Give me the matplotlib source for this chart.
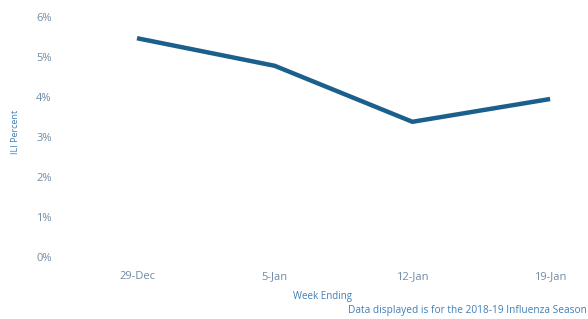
import matplotlib
matplotlib.use("Agg")
import matplotlib.pyplot as plt
from matplotlib.ticker import FuncFormatter

weeks = ["29-Dec", "5-Jan", "12-Jan", "19-Jan"]
ili_percent = [5.47, 4.78, 3.38, 3.95]
yticks = [0, 1, 2, 3, 4, 5, 6]

line_color = "#1b5f8c"
text_color = "#6f8aa3"
title_color = "#3f7fb5"

plt.rcParams['font.family'] = ['Open Sans', 'DejaVu Sans']

fig = plt.figure(figsize=(5.88, 3.19), dpi=100)
ax = fig.add_axes([60 / 588, 62 / 319, 528 / 588, 240 / 319])

x = list(range(len(weeks)))
ax.plot(x, ili_percent, color=line_color, linewidth=3.2, solid_capstyle='butt', solid_joinstyle='miter')

ax.set_xlim(-0.559, 3.275)
ax.set_ylim(0, 6)
ax.set_xticks(x)
ax.set_xticklabels(weeks)
ax.set_yticks(yticks)
ax.yaxis.set_major_formatter(FuncFormatter(lambda v, p: '{:d}%'.format(int(v))))
ax.tick_params(length=0, labelsize=8, colors=text_color)
ax.tick_params(axis='x', pad=10)
ax.tick_params(axis='y', pad=6)
for s in ax.spines.values():
    s.set_visible(False)

fig.text(15 / 588, 1 - 132 / 319, 'ILI Percent', fontsize=6.5, color=title_color,
         rotation=90, ha='center', va='center')
fig.text(322 / 588, 1 - 296 / 319, 'Week Ending', fontsize=7, color=title_color, ha='center', va='center')
fig.text(0.998, 1 - 311 / 319, 'Data displayed is for the 2018-19 Influenza Season', fontsize=7.3,
         color=title_color, ha='right', va='center')

fig.savefig('out.png', dpi=100)
